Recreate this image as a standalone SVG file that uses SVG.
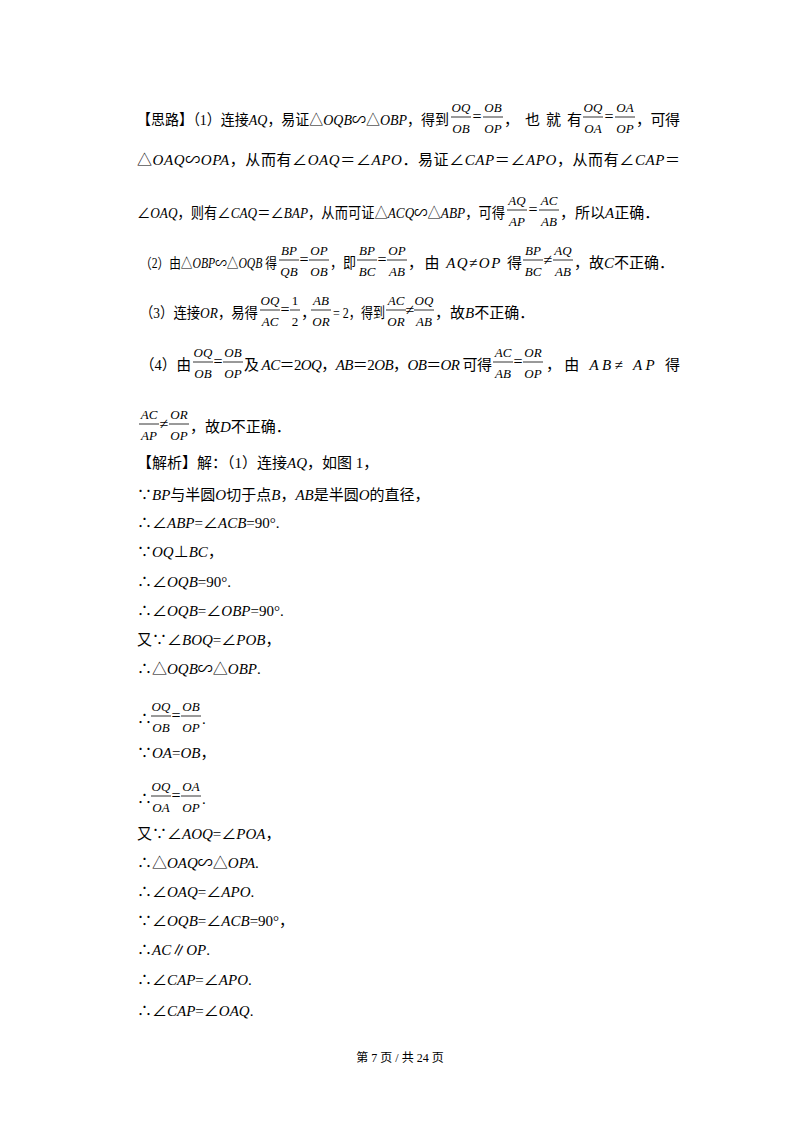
<svg xmlns="http://www.w3.org/2000/svg" width="800" height="1132" viewBox="0 0 800 1132">
<style>
text{font-family:"Liberation Serif","Noto Sans CJK SC",serif;font-size:15px;fill:#000}
.i{font-style:italic}
.f{font-size:13px;text-anchor:middle;font-style:italic}
.n{font-style:normal}
.e{text-anchor:middle;font-size:16px}
line{stroke:#000;stroke-width:0.8}
.ft{font-size:12px;text-anchor:middle}
.s{font-size:14px}
</style>
<rect width="800" height="1132" fill="#fff"/>
<g id="line1">
<text x="137" y="125" textLength="312" lengthAdjust="spacingAndGlyphs">【思路】（1）连接<tspan class="i">AQ</tspan>，易证△<tspan class="i">OQB</tspan>∽△<tspan class="i">OBP</tspan>，得到</text>
<text class="f" x="461" y="112">OQ</text><line x1="451" x2="471" y1="117" y2="117"/><text class="f" x="461" y="133">OB</text>
<text class="e" x="477" y="122">=</text>
<text class="f" x="493" y="112">OB</text><line x1="483" x2="503" y1="117" y2="117"/><text class="f" x="493" y="133">OP</text>
<text x="504" y="125" textLength="78" lengthAdjust="spacing">，也就有</text>
<text class="f" x="593" y="112">OQ</text><line x1="583" x2="603" y1="117" y2="117"/><text class="f" x="593" y="133">OA</text>
<text class="e" x="609" y="122">=</text>
<text class="f" x="625" y="112">OA</text><line x1="615" x2="635" y1="117" y2="117"/><text class="f" x="625" y="133">OP</text>
<text x="636" y="125" textLength="44" lengthAdjust="spacing">，可得</text>
</g>
<g id="line2">
<text x="137" y="165" textLength="543" lengthAdjust="spacing">△<tspan class="i">OAQ</tspan>∽<tspan class="i">OPA</tspan>，从而有∠<tspan class="i">OAQ</tspan>＝∠<tspan class="i">APO</tspan>．易证∠<tspan class="i">CAP</tspan>＝∠<tspan class="i">APO</tspan>，从而有∠<tspan class="i">CAP</tspan>＝</text>
</g>
<g id="line3">
<text x="137" y="218" textLength="368" lengthAdjust="spacingAndGlyphs">∠<tspan class="i">OAQ</tspan>，则有∠<tspan class="i">CAQ</tspan>＝∠<tspan class="i">BAP</tspan>，从而可证△<tspan class="i">ACQ</tspan>∽△<tspan class="i">ABP</tspan>，可得</text>
<text class="f" x="517" y="205">AQ</text><line x1="507" x2="527" y1="210" y2="210"/><text class="f" x="517" y="226">AP</text>
<text class="e" x="533" y="215">=</text>
<text class="f" x="549" y="205">AC</text><line x1="539" x2="559" y1="210" y2="210"/><text class="f" x="549" y="226">AB</text>
<text x="560" y="218">，所以<tspan class="i">A</tspan>正确．</text>
</g>
<g id="line4">
<text class="s" x="140" y="268" textLength="137" lengthAdjust="spacingAndGlyphs">（2）由△<tspan class="i">OBP</tspan>∽△<tspan class="i">OQB</tspan> 得</text>
<text class="f" x="289" y="255">BP</text><line x1="279" x2="299" y1="260" y2="260"/><text class="f" x="289" y="276">QB</text>
<text class="e" x="304" y="265">=</text>
<text class="f" x="319" y="255">OP</text><line x1="309" x2="329" y1="260" y2="260"/><text class="f" x="319" y="276">OB</text>
<text x="330" y="268" textLength="26" lengthAdjust="spacingAndGlyphs">，即</text>
<text class="f" x="367" y="255">BP</text><line x1="357" x2="377" y1="260" y2="260"/><text class="f" x="367" y="276">BC</text>
<text class="e" x="382" y="265">=</text>
<text class="f" x="397" y="255">OP</text><line x1="387" x2="407" y1="260" y2="260"/><text class="f" x="397" y="276">AB</text>
<text x="408" y="268" textLength="114" lengthAdjust="spacing">，由 <tspan class="i">AQ</tspan>≠<tspan class="i">OP</tspan> 得</text>
<text class="f" x="533" y="255">BP</text><line x1="523" x2="543" y1="260" y2="260"/><text class="f" x="533" y="276">BC</text>
<text class="e" x="548" y="265">≠</text>
<text class="f" x="563" y="255">AQ</text><line x1="553" x2="573" y1="260" y2="260"/><text class="f" x="563" y="276">AB</text>
<text x="574" y="268">，故<tspan class="i">C</tspan>不正确．</text>
</g>
<g id="line5">
<text x="140" y="318" textLength="118" lengthAdjust="spacingAndGlyphs">（3）连接<tspan class="i">OR</tspan>，易得</text>
<text class="f" x="270" y="305">OQ</text><line x1="260" x2="280" y1="310" y2="310"/><text class="f" x="270" y="326">AC</text>
<text class="e" x="285" y="315">=</text>
<text class="f n" x="295" y="305">1</text><line x1="290" x2="300" y1="310" y2="310"/><text class="f n" x="295" y="326">2</text>
<text x="301" y="318">，</text>
<text class="f" x="321" y="305">AB</text><line x1="311" x2="331" y1="310" y2="310"/><text class="f" x="321" y="326">OR</text>
<text x="333" y="318" textLength="52" lengthAdjust="spacingAndGlyphs">= 2，得到</text>
<text class="f" x="396" y="305">AC</text><line x1="386" x2="406" y1="310" y2="310"/><text class="f" x="396" y="326">OR</text>
<text class="e" x="410" y="315">≠</text>
<text class="f" x="424" y="305">OQ</text><line x1="414" x2="434" y1="310" y2="310"/><text class="f" x="424" y="326">AB</text>
<text x="435" y="318">，故<tspan class="i">B</tspan>不正确．</text>
</g>
<g id="line6">
<text x="140" y="370" textLength="51" lengthAdjust="spacingAndGlyphs">（4）由</text>
<text class="f" x="203" y="357">OQ</text><line x1="193" x2="213" y1="362" y2="362"/><text class="f" x="203" y="378">OB</text>
<text class="e" x="218" y="367">=</text>
<text class="f" x="233" y="357">OB</text><line x1="223" x2="243" y1="362" y2="362"/><text class="f" x="233" y="378">OP</text>
<text x="244" y="370" textLength="248" lengthAdjust="spacing">及 <tspan class="i">AC</tspan>＝2<tspan class="i">OQ</tspan>，<tspan class="i">AB</tspan>＝2<tspan class="i">OB</tspan>，<tspan class="i">OB</tspan>＝<tspan class="i">OR</tspan> 可得</text>
<text class="f" x="503" y="357">AC</text><line x1="493" x2="513" y1="362" y2="362"/><text class="f" x="503" y="378">AB</text>
<text class="e" x="518" y="367">=</text>
<text class="f" x="533" y="357">OR</text><line x1="523" x2="543" y1="362" y2="362"/><text class="f" x="533" y="378">OP</text>
<text x="546" y="370" textLength="134" lengthAdjust="spacing">，由 <tspan class="i">AB</tspan>≠ <tspan class="i">AP</tspan> 得</text>
</g>
<g id="line7">
<text class="f" x="149" y="419">AC</text><line x1="139" x2="159" y1="424" y2="424"/><text class="f" x="149" y="440">AP</text>
<text class="e" x="164" y="429">≠</text>
<text class="f" x="179" y="419">OR</text><line x1="169" x2="189" y1="424" y2="424"/><text class="f" x="179" y="440">OP</text>
<text x="190" y="432">，故<tspan class="i">D</tspan>不正确．</text>
</g>
<g id="solution">
<text x="137" y="468">【解析】解：（1）连接<tspan class="i">AQ</tspan>，如图 1，</text>
<text x="137" y="500">∵<tspan class="i">BP</tspan>与半圆<tspan class="i">O</tspan>切于点<tspan class="i">B</tspan>，<tspan class="i">AB</tspan>是半圆<tspan class="i">O</tspan>的直径，</text>
<text x="137" y="528">∴∠<tspan class="i">ABP</tspan>=∠<tspan class="i">ACB</tspan>=90°.</text>
<text x="137" y="557">∵<tspan class="i">OQ</tspan>⊥<tspan class="i">BC</tspan>，</text>
<text x="137" y="587">∴∠<tspan class="i">OQB</tspan>=90°.</text>
<text x="137" y="616">∴∠<tspan class="i">OQB</tspan>=∠<tspan class="i">OBP</tspan>=90°.</text>
<text x="137" y="645">又∵∠<tspan class="i">BOQ</tspan>=∠<tspan class="i">POB</tspan>，</text>
<text x="137" y="674">∴△<tspan class="i">OQB</tspan>∽△<tspan class="i">OBP</tspan>.</text>
<text x="137" y="724">∴</text>
<text class="f" x="161" y="711">OQ</text><line x1="151" x2="171" y1="716" y2="716"/><text class="f" x="161" y="732">OB</text>
<text class="e" x="176" y="721">=</text>
<text class="f" x="191" y="711">OB</text><line x1="181" x2="201" y1="716" y2="716"/><text class="f" x="191" y="732">OP</text>
<text x="202" y="724">.</text>
<text x="137" y="758">∵<tspan class="i">OA</tspan>=<tspan class="i">OB</tspan>，</text>
<text x="137" y="804">∴</text>
<text class="f" x="161" y="791">OQ</text><line x1="151" x2="171" y1="796" y2="796"/><text class="f" x="161" y="812">OA</text>
<text class="e" x="176" y="801">=</text>
<text class="f" x="191" y="791">OA</text><line x1="181" x2="201" y1="796" y2="796"/><text class="f" x="191" y="812">OP</text>
<text x="202" y="804">.</text>
<text x="137" y="839">又∵∠<tspan class="i">AOQ</tspan>=∠<tspan class="i">POA</tspan>，</text>
<text x="137" y="868">∴△<tspan class="i">OAQ</tspan>∽△<tspan class="i">OPA</tspan>.</text>
<text x="137" y="897">∴∠<tspan class="i">OAQ</tspan>=∠<tspan class="i">APO</tspan>.</text>
<text x="137" y="926">∵∠<tspan class="i">OQB</tspan>=∠<tspan class="i">ACB</tspan>=90°，</text>
<text x="137" y="955">∴<tspan class="i">AC</tspan>∥<tspan class="i">OP</tspan>.</text>
<text x="137" y="985">∴∠<tspan class="i">CAP</tspan>=∠<tspan class="i">APO</tspan>.</text>
<text x="137" y="1016">∴∠<tspan class="i">CAP</tspan>=∠<tspan class="i">OAQ</tspan>.</text>
</g>
<text class="ft" x="400" y="1062">第 7 页 / 共 24 页</text>
</svg>
